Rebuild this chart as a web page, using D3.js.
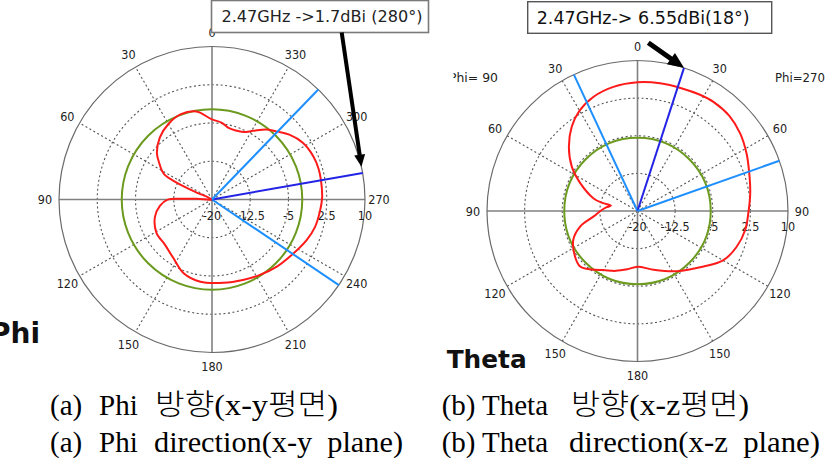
<!DOCTYPE html>
<html>
<head>
<meta charset="utf-8">
<script src="https://cdn.jsdelivr.net/npm/d3@7"></script>
<style>
	body { margin: 0; background: #fff; }
	svg { display: block; }
</style>
</head>
<body>
<div class="canvas"></div>
<script>
// radial axis (dB), shared by both plots
const radialTicks = [-20, -12.5, -5, 2.5, 10];

// (a) Phi cut, angles counter-clockwise from top
const phiAngles = [0, 10, 20, 30, 40, 50, 56, 62, 64.5, 65.5, 76, 87.5, 88.7, 90.5, 97, 107, 121, 134, 147, 159,
	172, 188, 201, 212, 224, 236, 247, 255, 264, 271, 280, 286, 293, 302, 310, 316, 322, 329, 335, 341, 347, 353];
const phiGain = [-4.3, -2.5, -2.2, -2.9, -4.1, -5.9, -7.6, -9.3, -12.5, -16, -20, -17, -14, -11.2, -9.7, -8.3, -7.3, -7.2, -6.2, -4.5,
	-3.7, -3.5, -3.1, -2.5, -1.7, -0.9, 0.2, 0.9, 1.3, 1.6, 1.7, 1.75, 1.6, 1.0, -0.2, -1.5, -2.6, -4.3, -5.4, -5.7, -5.6, -4.8];
const phiRef = -2.3;
const phiMarkers = [236, 280, 316];
const phiPeak = 280;
const phiTickAngles = [0, 30, 60, 90, 120, 150, 180, 210, 240, 270, 300, 330];
const phiTickLabels = ['0', '30', '60', '90', '120', '150', '180', '210', '240', '270', '300', '330'];

// (b) Theta cut, angles clockwise from top (right side = Phi 270)
const thetaAngles = [-180, -170, -160, -150, -142, -134, -126, -114, -105, -97, -90, -83, -78.5, -77, -74, -64, -56, -47, -38, -30,
	-21, -11, 0, 10, 20, 28, 35, 44, 53, 62, 71, 81, 91, 100, 110, 120, 130, 147, 165];
const thetaGain = [-8.9, -8.2, -7.3, -6.4, -5.2, -4.1, -4.6, -6.0, -8.2, -11.2, -12.6, -13.8, -14.6, -12.8, -10.9, -7.3, -4.2, -1.3, 1.3, 3.1,
	4.4, 5.2, 5.65, 5.85, 6.0, 6.3, 6.5, 6.35, 5.65, 4.6, 3.55, 2.75, 2.1, 1.8, 1.0, -0.3, -2.8, -5.7, -7.9];
const thetaRef = -5.4;
const thetaMarkers = [-25, 18, 70.5];
const thetaPeak = 18;
const thetaTickAngles = [-150, -120, -90, -60, -30, 0, 30, 60, 90, 120, 150, 180];
const thetaTickLabels = ['150', '120', '90', '60', '30', '0', '30', '60', '90', '120', '150', '180'];

const dims = {width: 827, height: 474};
const chartFont = '"DejaVu Sans Condensed", "DejaVu Sans", sans-serif';
const serifFont = '"Liberation Serif", "Times New Roman", "Noto Sans CJK KR", serif';

const svg = d3.select('.canvas')
	.append('svg')
	.attr('width', dims.width)
	.attr('height', dims.height);

svg.append('rect').attr('width', dims.width).attr('height', dims.height).attr('fill', '#fff');

// polar plot
const polar = (o) => {
	const g = svg.append('g')
		.attr('transform', `translate(${o.cx}, ${o.cy})`);

	const r = d3.scaleLinear().domain([-20, 10]).range([0, o.R]).clamp(true);
	const rad = a => o.dir * a * Math.PI / 180;
	const pt = (a, rr) => [Math.sin(rad(a)) * rr, -Math.cos(rad(a)) * rr];

	// dotted rings
	g.selectAll('.ring')
		.data(radialTicks.slice(1, -1))
		.enter().append('circle')
			.attr('r', d => r(d))
			.attr('fill', 'none')
			.attr('stroke', '#555')
			.attr('stroke-width', 1.1)
			.attr('stroke-dasharray', '2,2.5');

	// dotted spokes
	g.selectAll('.spoke')
		.data(o.tickAngles.filter(a => a % 90 !== 0))
		.enter().append('line')
			.attr('x2', d => pt(d, o.R)[0])
			.attr('y2', d => pt(d, o.R)[1])
			.attr('stroke', '#555')
			.attr('stroke-width', 1.1)
			.attr('stroke-dasharray', '2,2.5');

	// main axes
	g.append('line').attr('x1', -o.R).attr('x2', o.R)
		.attr('stroke', '#808080').attr('stroke-width', 1.6);
	g.append('line').attr('y1', -o.R).attr('y2', o.R)
		.attr('stroke', '#808080').attr('stroke-width', 1.6);

	// outer ring
	g.append('circle').attr('r', r(10))
		.attr('fill', 'none').attr('stroke', '#6a6a6a').attr('stroke-width', 1.2);

	// angle labels
	g.selectAll('.alabel')
		.data(o.tickAngles)
		.enter().append('text')
			.attr('x', d => pt(d, o.R + 14)[0])
			.attr('y', d => pt(d, o.R + 14)[1])
			.attr('dy', '0.36em')
			.attr('text-anchor', 'middle')
			.attr('font-family', chartFont)
			.attr('font-size', 12.5)
			.attr('fill', '#222')
			.text((d, i) => o.tickLabels[i]);

	// radial tick labels
	g.selectAll('.rlabel')
		.data(radialTicks)
		.enter().append('text')
			.attr('x', d => r(d))
			.attr('y', 20)
			.attr('text-anchor', 'middle')
			.attr('font-family', chartFont)
			.attr('font-size', 12.5)
			.attr('fill', '#222')
			.text(d => d);

	// reference circle
	g.append('circle').attr('r', r(o.ref))
		.attr('fill', 'none').attr('stroke', '#6b9a1e').attr('stroke-width', 2);

	// gain pattern
	const pattern = o.angles.map((a, i) => [a, o.gain[i]]);
	g.append('path')
		.datum(pattern)
		.attr('fill', 'none')
		.attr('stroke', '#ff1a1a')
		.attr('stroke-width', 2)
		.attr('d', d3.lineRadial()
			.angle(d => rad(d[0]))
			.radius(d => r(d[1]))
			.curve(d3.curveCatmullRomClosed.alpha(0.5)));

	// beam markers
	g.selectAll('.marker')
		.data(o.markers)
		.enter().append('line')
			.attr('x2', d => pt(d, r(10))[0])
			.attr('y2', d => pt(d, r(10))[1])
			.attr('stroke', d => d === o.peak ? '#2323e6' : '#1e8fff')
			.attr('stroke-width', 2);

	return {pt: (a, rr) => { const p = pt(a, rr); return [p[0] + o.cx, p[1] + o.cy]; }, R: o.R};
};

const arrow = (x1, y1, x2, y2, w, hl, hw) => {
	const dx = x2 - x1, dy = y2 - y1, len = Math.hypot(dx, dy);
	const ux = dx / len, uy = dy / len;
	const bx = x2 - ux * hl, by = y2 - uy * hl;
	svg.append('line')
		.attr('x1', x1).attr('y1', y1).attr('x2', bx + ux).attr('y2', by + uy)
		.attr('stroke', '#000').attr('stroke-width', w);
	svg.append('path')
		.attr('d', `M${x2},${y2}L${bx - uy * hw},${by + ux * hw}L${bx + uy * hw},${by - ux * hw}Z`)
		.attr('fill', '#000');
};

svg.append('clipPath').attr('id', 'rightClip')
	.append('rect').attr('x', 453.5).attr('y', 0).attr('width', 400).attr('height', 400);

const left = polar({
	cx: 212, cy: 199.5, R: 153, dir: -1,
	angles: phiAngles, gain: phiGain, ref: phiRef,
	markers: phiMarkers, peak: phiPeak,
	tickAngles: phiTickAngles, tickLabels: phiTickLabels
});

const right = polar({
	cx: 637.5, cy: 211, R: 150.5, dir: 1,
	angles: thetaAngles, gain: thetaGain, ref: thetaRef,
	markers: thetaMarkers, peak: thetaPeak,
	tickAngles: thetaTickAngles, tickLabels: thetaTickLabels
});

// plane labels of the theta plot
const planeText = svg.append('g').attr('clip-path', 'url(#rightClip)');
planeText.append('text')
	.attr('x', 449).attr('y', 81.5)
	.attr('font-family', chartFont).attr('font-size', 12.5).attr('fill', '#222')
	.attr('textLength', 49).attr('lengthAdjust', 'spacingAndGlyphs')
	.text('Phi= 90');
svg.append('text')
	.attr('x', 775).attr('y', 81.5)
	.attr('font-family', chartFont).attr('font-size', 12.5).attr('fill', '#222')
	.attr('textLength', 50).attr('lengthAdjust', 'spacingAndGlyphs')
	.text('Phi=270');

// annotation boxes
svg.append('rect')
	.attr('x', 211.5).attr('y', 0.5).attr('width', 217).attr('height', 32)
	.attr('fill', '#fff').attr('stroke', '#7a7a7a').attr('stroke-width', 1.6);
svg.append('text')
	.attr('x', 221.5).attr('y', 22)
	.attr('font-family', '"DejaVu Sans", sans-serif').attr('font-size', 16.5).attr('fill', '#222')
	.attr('textLength', 201).attr('lengthAdjust', 'spacingAndGlyphs')
	.text('2.47GHz ->1.7dBi (280°)');

svg.append('rect')
	.attr('x', 527.7).attr('y', 1.7).attr('width', 244).attr('height', 31.6)
	.attr('fill', '#fff').attr('stroke', '#555').attr('stroke-width', 1.4);
svg.append('text')
	.attr('x', 536.7).attr('y', 23.5)
	.attr('font-family', '"DejaVu Sans", sans-serif').attr('font-size', 17).attr('fill', '#111')
	.attr('textLength', 213).attr('lengthAdjust', 'spacingAndGlyphs')
	.text('2.47GHz-> 6.55dBi(18°)');

// arrows pointing at the peak markers
const lTip = left.pt(phiPeak + 2.4, left.R);
arrow(341.7, 32.5, lTip[0], lTip[1], 4, 12, 5.5);
const rTip = right.pt(thetaPeak, right.R);
arrow(648.3, 42.7, rTip[0], rTip[1], 5, 16, 7);

// sub-plot titles
svg.append('text')
	.attr('x', -10).attr('y', 343)
	.attr('font-family', '"DejaVu Sans", sans-serif').attr('font-weight', 'bold').attr('font-size', 28)
	.attr('fill', '#111')
	.text('Phi');
svg.append('text')
	.attr('x', 446.7).attr('y', 368)
	.attr('font-family', '"DejaVu Sans", sans-serif').attr('font-weight', 'bold').attr('font-size', 25)
	.attr('fill', '#111')
	.attr('textLength', 80).attr('lengthAdjust', 'spacingAndGlyphs')
	.text('Theta');

// captions: [text, x, width (null = natural), baseline, light]
const captions = [
	['(a)', 50, null, 415, false], ['Phi', 99, null, 415, false],
	['방향(x-y평면)', 155, 183, 415, true],
	['(a)', 50, null, 451.7, false], ['Phi', 99, null, 451.7, false],
	['direction(x-y  plane)', 154, 249, 451.7, false],
	['(b)', 441.7, null, 415, false], ['Theta', 482, null, 415, false],
	['방향(x-z평면)', 571, 178, 415, true],
	['(b)', 441.7, null, 451.7, false], ['Theta', 482, null, 451.7, false],
	['direction(x-z  plane)', 569, 251, 451.7, false]
];
svg.selectAll('.caption')
	.data(captions)
	.enter().append('text')
		.attr('x', d => d[1])
		.attr('y', d => d[3])
		.attr('textLength', d => d[2])
		.attr('lengthAdjust', d => d[2] ? 'spacingAndGlyphs' : null)
		.attr('font-family', serifFont)
		.attr('font-weight', d => d[4] ? 300 : null)
		.attr('font-size', 29)
		.attr('fill', '#000')
		.style('white-space', 'pre')
		.text(d => d[0]);
</script>
</body>
</html>
